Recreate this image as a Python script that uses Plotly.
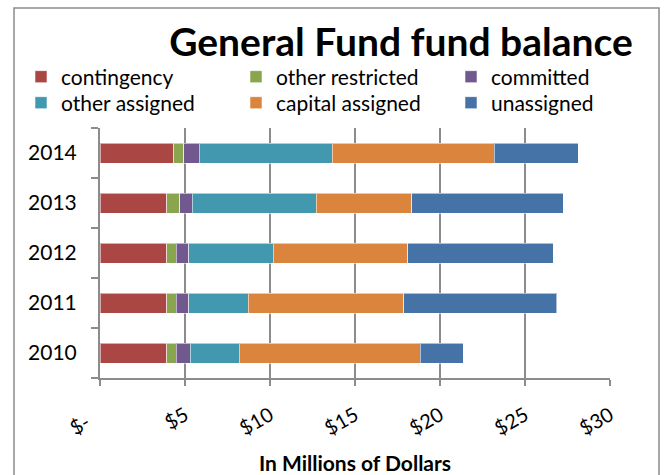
import plotly.graph_objects as go

years = ["2010", "2011", "2012", "2013", "2014"]
contingency = [3.94, 3.94, 3.94, 3.94, 4.35]
other_restricted = [0.55, 0.55, 0.55, 0.75, 0.57]
committed = [0.82, 0.73, 0.73, 0.74, 0.92]
other_assigned = [2.87, 3.49, 4.96, 7.30, 7.82]
capital_assigned = [10.66, 9.17, 7.92, 5.60, 9.52]
unassigned = [2.53, 8.98, 8.55, 8.92, 4.94]

series_names = ["contingency", "other restricted", "committed",
                "other assigned", "capital assigned", "unassigned"]
series_values = [contingency, other_restricted, committed,
                 other_assigned, capital_assigned, unassigned]
colors = ["#AA4643", "#89A54E", "#71588F", "#4198AF", "#DB843D", "#4572A7"]
legend_ids = ["legend", "legend", "legend", "legend2", "legend2", "legend2"]

tick_vals = [0, 5, 10, 15, 20, 25, 30]
tick_text = ["$-\u00a0\u00a0\u00a0", "$5", "$10", "$15", "$20", "$25", "$30"]

FONT = "Lato"

fig = go.Figure()
for name, vals, col, lg in zip(series_names, series_values, colors, legend_ids):
    fig.add_trace(go.Bar(
        y=years, x=vals, name=name, orientation="h", legend=lg,
        marker=dict(color=col, line=dict(color="rgba(255,255,255,0.55)", width=1)),
    ))

L, R, T, B = 14, 5, 128, 97
W, H = 664, 475
gw = W - L - R
gh = H - T - B

def px_x(p):
    return (p - L) / gw

def px_y(p):
    return (H - B - p) / gh

legend_common = dict(orientation="h", xanchor="left", yanchor="middle",
                     entrywidth=170, traceorder="normal",
                     font=dict(family=FONT, size=21, color="black"),
                     bgcolor="rgba(0,0,0,0)")

fig.update_layout(
    width=W, height=H,
    margin=dict(l=L, r=R, t=T, b=B, autoexpand=False),
    barmode="stack",
    bargap=0.6,
    plot_bgcolor="white",
    paper_bgcolor="white",
    font=dict(family=FONT, color="black", size=18),
    title=dict(text="<b>General Fund fund balance</b>", x=401 / W, xanchor="center",
               y=1 - 42 / H, yanchor="middle",
               font=dict(family=FONT, size=39, color="black")),
    legend=dict(x=px_x(21), y=px_y(77), **legend_common),
    legend2=dict(x=px_x(21), y=px_y(103), **legend_common),
    xaxis=dict(domain=[px_x(100), px_x(610)], range=[0, 30],
               tickvals=tick_vals, ticktext=tick_text, tickangle=-30,
               showgrid=True, gridcolor="#8C8C8C", gridwidth=2,
               showline=True, linecolor="#8C8C8C", linewidth=2,
               ticks="outside", ticklen=6, tickcolor="#8C8C8C", tickwidth=2,
               zeroline=False, ticklabelstandoff=10,
               tickfont=dict(family=FONT, size=20),
               title=dict(text="<b>In Millions of Dollars</b>", standoff=18,
                          font=dict(family=FONT, size=21)),
               fixedrange=True),
    yaxis=dict(type="category", categoryorder="array", categoryarray=years,
               showline=True, linecolor="#8C8C8C", linewidth=2,
               ticks="outside", ticklen=7, tickcolor="#8C8C8C", tickwidth=2,
               tickson="boundaries", showgrid=False,
               ticklabelstandoff=17,
               tickfont=dict(family=FONT, size=21), fixedrange=True),
    shapes=[dict(type="rect", xref="paper", yref="paper",
                 x0=px_x(14), x1=px_x(659), y0=px_y(485), y1=px_y(8),
                 line=dict(color="#8C8C8C", width=1.5), layer="below")],
    showlegend=True,
)

fig.write_html("out.html")
